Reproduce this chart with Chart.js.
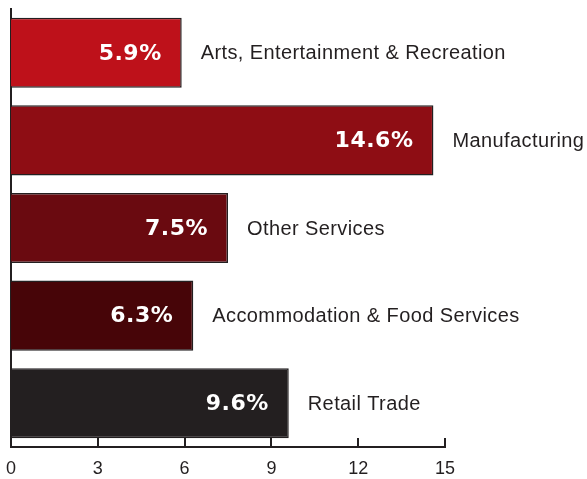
<!DOCTYPE html>
<html>
<head>
<meta charset="utf-8">
<script src="https://cdn.jsdelivr.net/npm/chart.js@4"></script>
<style>
  html, body { margin: 0; padding: 0; background: #fff; }
  #wrap { width: 587px; height: 479px; }
</style>
</head>
<body>
<div id="wrap"><canvas id="industryChart"></canvas></div>
<script>
const industries = [
    'Arts, Entertainment & Recreation',
    'Manufacturing',
    'Other Services',
    'Accommodation & Food Services',
    'Retail Trade',
];
const shares = [5.9, 14.6, 7.5, 6.3, 9.6];
const barColors = ['#be111a', '#8e0d14', '#6a0a10', '#470508', '#231f20'];
const xTicks = [0, 3, 6, 9, 12, 15];

const ink = '#231f20';

// value inside each bar, industry name just past its end
const barLabels = {
    id: 'barLabels',
    afterDatasetsDraw(chart) {
        const { ctx } = chart;
        const meta = chart.getDatasetMeta(0);
        ctx.save();
        ctx.textBaseline = 'middle';
        meta.data.forEach((bar, i) => {
            ctx.fillStyle = '#fff';
            ctx.font = 'bold 22px "DejaVu Sans", sans-serif';
            ctx.letterSpacing = '0.5px';
            ctx.textAlign = 'right';
            ctx.fillText(shares[i].toFixed(1) + '%', bar.x - 20, bar.y + 1);

            ctx.fillStyle = ink;
            ctx.font = '20px "Liberation Sans", Arial, sans-serif';
            ctx.letterSpacing = '0.4px';
            ctx.textAlign = 'left';
            ctx.fillText(industries[i], bar.x + 19, bar.y + 1);
        });
        ctx.restore();
    },
};

// short tick marks pointing up from the x axis line
const upTicks = {
    id: 'upTicks',
    afterDraw(chart) {
        const { ctx } = chart;
        const x = chart.scales.x;
        const bottom = chart.chartArea.bottom;
        ctx.save();
        ctx.strokeStyle = ink;
        ctx.lineWidth = 2;
        xTicks.forEach(v => {
            const px = Math.round(x.getPixelForValue(v));
            ctx.beginPath();
            ctx.moveTo(px, bottom);
            ctx.lineTo(px, bottom - 9);
            ctx.stroke();
        });
        ctx.restore();
    },
};

new Chart(document.getElementById('industryChart'), {
    type: 'bar',
    data: {
        labels: industries,
        datasets: [{
            data: shares,
            backgroundColor: barColors,
            borderColor: ink,
            borderWidth: 1.5,
            borderSkipped: 'start',
            barPercentage: 0.8,
            categoryPercentage: 1,
        }],
    },
    options: {
        indexAxis: 'y',
        responsive: true,
        maintainAspectRatio: false,
        animation: false,
        layout: { padding: { left: 11, right: 142, top: 9, bottom: 0 } },
        plugins: {
            legend: { display: false },
            tooltip: { enabled: false },
        },
        scales: {
            x: {
                min: 0,
                max: 15,
                afterBuildTicks: scale => {
                    scale.ticks = xTicks.map(v => ({ value: v }));
                },
                afterFit: scale => {
                    scale.height = 32;
                    scale.paddingLeft = 0;
                    scale.paddingRight = 0;
                },
                grid: { display: false, drawTicks: false },
                border: { display: true, color: ink, width: 2 },
                ticks: {
                    color: ink,
                    padding: 11,
                    maxRotation: 0,
                    font: { family: '"Liberation Sans Narrow", "Liberation Sans", sans-serif', size: 18 },
                },
            },
            y: {
                afterFit: scale => { scale.width = 0; },
                grid: { display: false, drawTicks: false },
                border: { display: true, color: ink, width: 2 },
                ticks: { display: false },
            },
        },
    },
    plugins: [barLabels, upTicks],
});
</script>
</body>
</html>
